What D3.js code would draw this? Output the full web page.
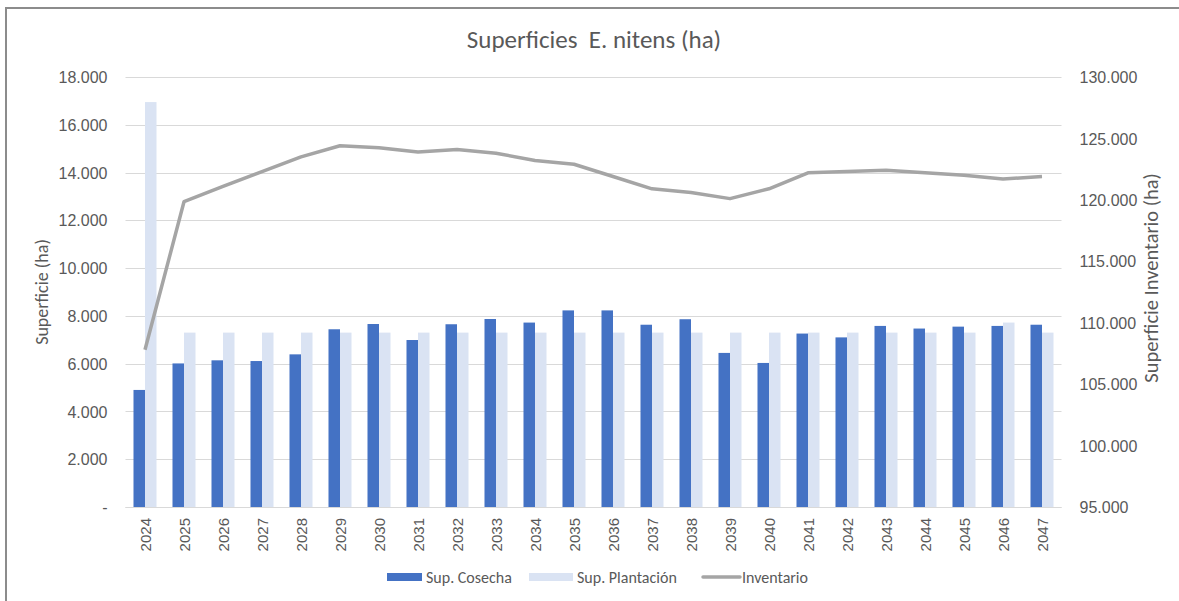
<!DOCTYPE html>
<html>
<head>
<meta charset="utf-8">
<style>
  body { margin: 0; background: #fff; }
  svg { font-family: Carlito, Lato, "Open Sans", sans-serif; }
  .grid line { stroke: #D9D9D9; stroke-width: 1px; }
  .tick text { fill: #595959; font-size: 16px; }
  .lbl { fill: #595959; white-space: pre; }
</style>
</head>
<body>
<svg width="1179" height="601"></svg>
<script src="https://d3js.org/d3.v7.min.js"></script>
<script>

// years on the x axis
var years = ["2024","2025","2026","2027","2028","2029","2030","2031","2032","2033","2034","2035",
             "2036","2037","2038","2039","2040","2041","2042","2043","2044","2045","2046","2047"];

// harvested area (ha)
var cosecha = [4900, 6010, 6140, 6110, 6390, 7440, 7660, 6990, 7650, 7870, 7720, 8230,
               8230, 7630, 7860, 6450, 6030, 7260, 7100, 7580, 7470, 7550, 7580, 7630];

// planted area (ha)
var plantacion = [16950, 7300, 7300, 7300, 7300, 7300, 7300, 7300, 7300, 7300, 7300, 7300,
                  7300, 7300, 7300, 7300, 7300, 7300, 7300, 7300, 7300, 7300, 7720, 7300];

// inventory (ha), right axis
var inventario = [107800, 119850, 121100, 122300, 123500, 124400, 124250, 123900, 124100, 123800, 123200, 122900,
                  121900, 120900, 120600, 120100, 120900, 122200, 122300, 122400, 122200, 122000, 121700, 121900];

var leftTicks = [0, 2000, 4000, 6000, 8000, 10000, 12000, 14000, 16000, 18000];
var rightTicks = [95000, 100000, 105000, 110000, 115000, 120000, 125000, 130000];

var svg = d3.select("svg"),
    width = +svg.attr("width"),
    height = +svg.attr("height");

var pLeft = 125.5, pRight = 1061.5, pTop = 77, pBottom = 507;

var es = d3.formatLocale({decimal: ",", thousands: ".", grouping: [3], currency: ["", ""]});
var fmt = function(v) { return v === 0 ? "-" : es.format(",.0f")(v); };

// frame around the chart
svg.append("path")
    .attr("d", "M6,602 V8 H1180")
    .attr("fill", "none")
    .attr("stroke", "#8C8C8C")
    .attr("stroke-width", 2);

var x0 = d3.scaleBand().domain(years).range([pLeft, pRight]).paddingInner(0.41).paddingOuter(0.205);
var x1 = d3.scaleBand().domain(["c", "p"]).range([0, x0.bandwidth()]);
var y = d3.scaleLinear().domain([0, 18000]).range([pBottom, pTop]);
var y2 = d3.scaleLinear().domain([95000, 130000]).range([pBottom, pTop]);
var xc = d3.scalePoint().domain(years).range([pLeft, pRight]).padding(0.5);

// gridlines
svg.append("g")
    .attr("class", "grid")
    .selectAll("line")
    .data(leftTicks)
    .enter().append("line")
    .attr("x1", pLeft).attr("x2", pRight)
    .attr("y1", function(d) { return Math.round(y(d)) + 0.5; })
    .attr("y2", function(d) { return Math.round(y(d)) + 0.5; });

// left axis
var ga = svg.append("g")
    .attr("transform", "translate(" + (pLeft - 18) + ",0)")
    .call(d3.axisLeft(y).tickValues(leftTicks).tickFormat(fmt).tickSize(0).tickPadding(0));
ga.select(".domain").remove();
ga.selectAll("text").attr("dy", "0.35em");

// right axis
var gb = svg.append("g")
    .attr("transform", "translate(" + (pRight + 18) + ",0)")
    .call(d3.axisRight(y2).tickValues(rightTicks).tickFormat(fmt).tickSize(0).tickPadding(0));
gb.select(".domain").remove();
gb.selectAll("text").attr("dy", "0.35em");

// bars
var groups = svg.append("g").selectAll("g")
    .data(years)
    .enter().append("g")
    .attr("transform", function(d) { return "translate(" + x0(d) + ",0)"; });

groups.append("rect")
    .attr("x", x1("c"))
    .attr("width", x1.bandwidth())
    .attr("y", function(d, i) { return y(cosecha[i]); })
    .attr("height", function(d, i) { return pBottom - y(cosecha[i]); })
    .attr("fill", "#4472C4");

groups.append("rect")
    .attr("x", x1("p"))
    .attr("width", x1.bandwidth())
    .attr("y", function(d, i) { return y(plantacion[i]); })
    .attr("height", function(d, i) { return pBottom - y(plantacion[i]); })
    .attr("fill", "#DAE3F3");

// x axis line
svg.append("line")
    .attr("x1", pLeft).attr("x2", pRight)
    .attr("y1", pBottom + 0.5).attr("y2", pBottom + 0.5)
    .attr("stroke", "#D9D9D9");

// x labels
var gx = svg.append("g")
    .attr("transform", "translate(0," + pBottom + ")")
    .call(d3.axisBottom(xc).tickSize(0).tickPadding(0));
gx.select(".domain").remove();
gx.selectAll("text")
    .style("font-size", "15px")
    .attr("transform", "rotate(-90)")
    .attr("text-anchor", "end")
    .attr("x", -11)
    .attr("y", 0)
    .attr("dy", "0.35em");

// inventory line
var line = d3.line()
    .x(function(d, i) { return xc(years[i]); })
    .y(function(d) { return y2(d); });

svg.append("path")
    .datum(inventario)
    .attr("d", line)
    .attr("fill", "none")
    .attr("stroke", "#A5A5A5")
    .attr("stroke-width", 3.5)
    .attr("stroke-linejoin", "round");

// title
svg.append("text")
    .attr("class", "lbl")
    .attr("x", 594).attr("y", 48)
    .attr("text-anchor", "middle")
    .style("font-size", "25px")
    .text("Superficies  E. nitens (ha)");

// axis titles
svg.append("text")
    .attr("class", "lbl")
    .attr("transform", "translate(48,292) rotate(-90)")
    .attr("text-anchor", "middle")
    .style("font-size", "18px")
    .text("Superficie (ha)");

svg.append("text")
    .attr("class", "lbl")
    .attr("transform", "translate(1158,278) rotate(-90)")
    .attr("text-anchor", "middle")
    .style("font-size", "20.5px")
    .text("Superficie Inventario (ha)");

// legend
var legend = svg.append("g").attr("transform", "translate(0,577)");

legend.append("rect").attr("x", 387).attr("y", -4).attr("width", 35).attr("height", 8).attr("fill", "#4472C4");
legend.append("text").attr("class", "lbl").attr("x", 426).attr("y", 0).attr("dy", "0.35em")
    .style("font-size", "16px").text("Sup. Cosecha");

legend.append("rect").attr("x", 529).attr("y", -4).attr("width", 44).attr("height", 8).attr("fill", "#DAE3F3");
legend.append("text").attr("class", "lbl").attr("x", 577).attr("y", 0).attr("dy", "0.35em")
    .style("font-size", "16px").text("Sup. Plantación");

legend.append("line").attr("x1", 703).attr("x2", 740).attr("y1", 0).attr("y2", 0)
    .attr("stroke", "#A5A5A5").attr("stroke-width", 3.5).attr("stroke-linecap", "round");
legend.append("text").attr("class", "lbl").attr("x", 742).attr("y", 0).attr("dy", "0.35em")
    .style("font-size", "16px").text("Inventario");

</script>
</body>
</html>
